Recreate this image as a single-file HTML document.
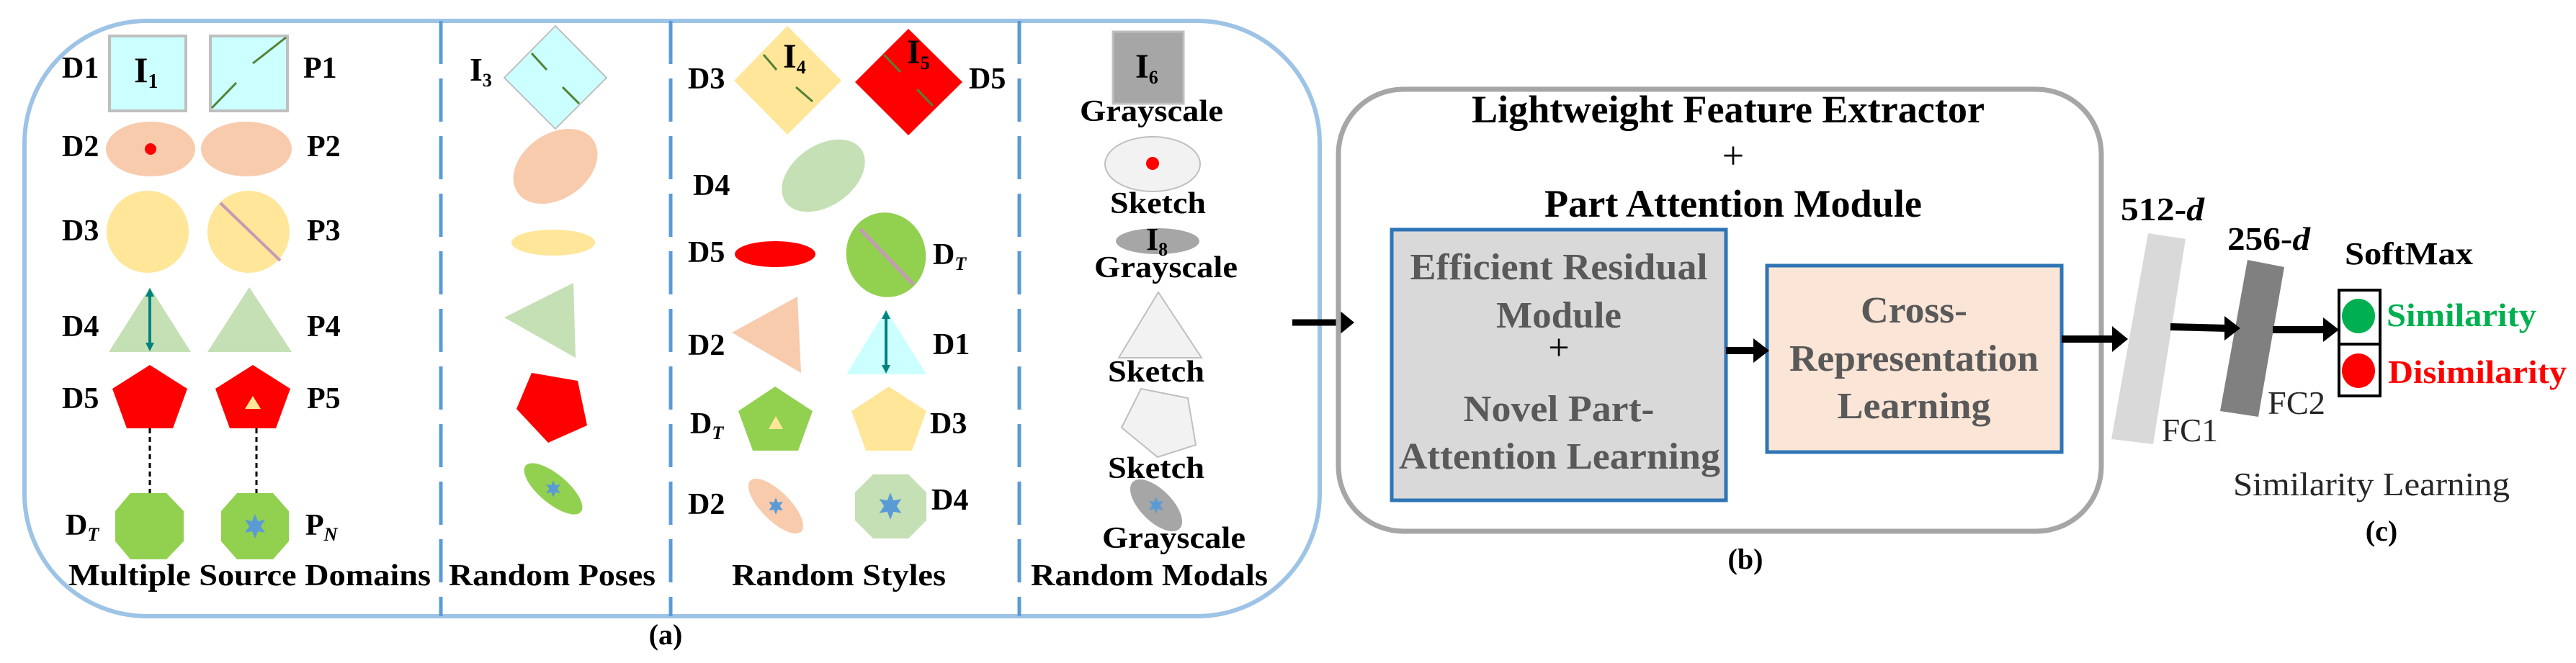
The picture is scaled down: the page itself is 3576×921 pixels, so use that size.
<!DOCTYPE html>
<html><head><meta charset="utf-8"><style>
html,body{margin:0;padding:0;background:#fff;}
svg{display:block;font-family:"Liberation Serif","DejaVu Serif",serif;}
svg text{font-family:"Liberation Serif","DejaVu Serif",serif;}
.b{font-weight:bold;}
</style></head><body>
<svg width="3576" height="921" viewBox="0 0 3576 921" xmlns="http://www.w3.org/2000/svg" font-family="'Liberation Serif', serif">
<defs>
<g id="star"><polygon points="0,-17 4,-7 14,-9 8,0 14,9 4,7 0,17 -4,7 -14,9 -8,0 -14,-9 -4,-7" fill="#5b9bd5"/></g>
</defs>

<rect x="34" y="29" width="1798" height="827" rx="170" ry="170" fill="none" stroke="#9dc3e6" stroke-width="6"/>
<g stroke="#5b9bd5" stroke-width="5" stroke-dasharray="60,20">
<line x1="612" y1="29" x2="612" y2="856"/>
<line x1="931" y1="29" x2="931" y2="856"/>
<line x1="1415" y1="29" x2="1415" y2="856"/>
</g>

<rect x="152" y="50" width="106" height="104" fill="#ccffff" stroke="#bfbfbf" stroke-width="4"/>
<rect x="292" y="50" width="107" height="104" fill="#ccffff" stroke="#bfbfbf" stroke-width="4"/>
<line x1="294" y1="150" x2="328" y2="115" stroke="#548235" stroke-width="3"/>
<line x1="351" y1="88" x2="397" y2="52" stroke="#548235" stroke-width="3"/>
<text x="186" y="114" font-size="50" class="b" font-family="'Liberation Serif', serif">I<tspan font-size="28" dy="8">1</tspan></text>

<ellipse cx="209" cy="207" rx="62" ry="38" fill="#f8cbad"/>
<circle cx="209" cy="207" r="8" fill="#ff0000"/>
<ellipse cx="342" cy="207" rx="63" ry="38" fill="#f8cbad"/>

<ellipse cx="205" cy="322" rx="57" ry="57" fill="#ffe699"/>
<ellipse cx="345" cy="322" rx="57" ry="57" fill="#ffe699"/>
<line x1="306" y1="282" x2="389" y2="362" stroke="#c39bb3" stroke-width="4"/>

<polygon points="208,399 151,489 265,489" fill="#c5e0b4"/>
<polygon points="346,399 288,489 405,489" fill="#c5e0b4"/>
<line x1="208" y1="404" x2="208" y2="484" stroke="#00827f" stroke-width="4"/>
<polygon points="208,400 202,412 214,412" fill="#00827f"/>
<polygon points="208,488 202,476 214,476" fill="#00827f"/>

<polygon points="208,507 260,540 240,595 176,595 156,540" fill="#ff0000"/>
<polygon points="351,507 403,540 383,595 319,595 299,540" fill="#ff0000"/>
<polygon points="351,550 340,568 362,568" fill="#ffe699"/>

<g stroke="#000" stroke-width="3" stroke-dasharray="7,5">
<line x1="208" y1="595" x2="208" y2="685"/>
<line x1="356" y1="595" x2="356" y2="685"/>
</g>
<polygon points="181,685 231,685 255,710 255,752 231,777 181,777 160,752 160,710" fill="#92d050"/>
<polygon points="329,685 379,685 401,710 401,752 379,777 329,777 307,752 307,710" fill="#92d050"/>
<use href="#star" x="354" y="731"/>

<g font-size="42" class="b" font-family="'Liberation Serif', serif">
<text x="86" y="108">D1</text><text x="421" y="108">P1</text>
<text x="86" y="217">D2</text><text x="426" y="217">P2</text>
<text x="86" y="334">D3</text><text x="426" y="334">P3</text>
<text x="86" y="467">D4</text><text x="426" y="467">P4</text>
<text x="86" y="567">D5</text><text x="426" y="567">P5</text>
<text x="91" y="743">D<tspan font-size="26" font-style="italic" dy="8">T</tspan></text>
<text x="424" y="743">P<tspan font-size="26" font-style="italic" dy="8">N</tspan></text>
<text x="95" y="813" textLength="503" lengthAdjust="spacingAndGlyphs">Multiple Source Domains</text>
<text x="623" y="813" textLength="287" lengthAdjust="spacingAndGlyphs">Random Poses</text>
<text x="1016" y="813" textLength="297" lengthAdjust="spacingAndGlyphs">Random Styles</text>
<text x="1431" y="813" textLength="329" lengthAdjust="spacingAndGlyphs">Random Modals</text>
</g>

<polygon points="771,36 842,108 771,179 700,108" fill="#ccffff" stroke="#bfbfbf" stroke-width="2"/>
<line x1="738" y1="74" x2="759" y2="97" stroke="#548235" stroke-width="3"/>
<line x1="781" y1="121" x2="804" y2="144" stroke="#548235" stroke-width="3"/>
<text x="652" y="112" font-size="46" class="b" font-family="'Liberation Serif', serif">I<tspan font-size="26" dy="8">3</tspan></text>
<ellipse cx="771" cy="231" rx="64" ry="45" transform="rotate(-35 771 231)" fill="#f8cbad"/>
<ellipse cx="768" cy="337" rx="58" ry="18" fill="#ffe699"/>
<polygon points="700,441 796,393 799,497" fill="#c5e0b4"/>
<polygon points="738,518 802,529 815,591 761,615 717,568" fill="#ff0000"/>
<ellipse cx="768" cy="679" rx="50" ry="20" transform="rotate(40 768 679)" fill="#92d050"/>
<use href="#star" transform="translate(768 679) scale(0.7)"/>

<polygon points="1093,36 1168,112 1093,187 1019,112" fill="#ffe699"/>
<line x1="1060" y1="76" x2="1078" y2="97" stroke="#548235" stroke-width="3"/>
<line x1="1105" y1="121" x2="1128" y2="141" stroke="#548235" stroke-width="3"/>
<polygon points="1261,40 1336,114 1261,188 1187,114" fill="#ff0000"/>
<line x1="1227" y1="76" x2="1250" y2="100" stroke="#548235" stroke-width="3"/>
<line x1="1273" y1="124" x2="1295" y2="147" stroke="#548235" stroke-width="3"/>
<text x="1087" y="94" font-size="48" class="b" font-family="'Liberation Serif', serif">I<tspan font-size="26" dy="8">4</tspan></text>
<text x="1259" y="88" font-size="48" class="b" font-family="'Liberation Serif', serif">I<tspan font-size="26" dy="8">5</tspan></text>
<ellipse cx="1143" cy="244" rx="64" ry="42" transform="rotate(-35 1143 244)" fill="#c5e0b4"/>
<ellipse cx="1076" cy="353" rx="56" ry="18" fill="#ff0000"/>
<ellipse cx="1230" cy="354" rx="55" ry="59" transform="rotate(-15 1230 354)" fill="#92d050"/>
<line x1="1194" y1="318" x2="1268" y2="395" stroke="#c39bb3" stroke-width="5"/>
<polygon points="1016,462 1107,412 1112,518" fill="#f8cbad"/>
<polygon points="1230,430 1175,520 1286,520" fill="#ccffff"/>
<line x1="1230" y1="436" x2="1230" y2="514" stroke="#00827f" stroke-width="4"/>
<polygon points="1230,431 1224,443 1236,443" fill="#00827f"/>
<polygon points="1230,519 1224,507 1236,507" fill="#00827f"/>
<polygon points="1076,537 1128,571 1108,626 1045,626 1025,571" fill="#92d050"/>
<polygon points="1077,578 1067,596 1087,596" fill="#ffe699"/>
<polygon points="1234,537 1286,571 1266,626 1202,626 1182,571" fill="#ffe699"/>
<ellipse cx="1077" cy="703" rx="50" ry="20" transform="rotate(45 1077 703)" fill="#f8cbad"/>
<use href="#star" transform="translate(1077 703) scale(0.7)"/>
<polygon points="1212,659 1261,659 1286,684 1286,723 1261,748 1212,748 1187,723 1187,684" fill="#c5e0b4"/>
<use href="#star" transform="translate(1236 703) scale(1.1)"/>
<g font-size="42" class="b" font-family="'Liberation Serif', serif">
<text x="955" y="123">D3</text><text x="1345" y="123">D5</text>
<text x="962" y="271">D4</text>
<text x="955" y="364">D5</text><text x="1295" y="367">D<tspan font-size="26" font-style="italic" dy="8">T</tspan></text>
<text x="955" y="493">D2</text><text x="1295" y="492">D1</text>
<text x="958" y="602">D<tspan font-size="26" font-style="italic" dy="8">T</tspan></text><text x="1291" y="602">D3</text>
<text x="955" y="714">D2</text><text x="1293" y="708">D4</text>
</g>

<rect x="1545" y="44" width="98" height="100" fill="#a6a6a6" stroke="#bfbfbf" stroke-width="3"/>
<text x="1576" y="108" font-size="48" class="b" font-family="'Liberation Serif', serif">I<tspan font-size="26" dy="8">6</tspan></text>
<ellipse cx="1600" cy="228" rx="66" ry="38" fill="#f2f2f2" stroke="#bfbfbf" stroke-width="2"/>
<circle cx="1600" cy="227" r="9" fill="#ff0000"/>
<ellipse cx="1607" cy="335" rx="58" ry="18" fill="#a6a6a6"/>
<text x="1591" y="347" font-size="44" class="b" font-family="'Liberation Serif', serif">I<tspan font-size="26" dy="8">8</tspan></text>
<polygon points="1608,406 1553,497 1668,497" fill="#f2f2f2" stroke="#bfbfbf" stroke-width="2"/>
<polygon points="1584,540 1649,553 1660,618 1607,635 1557,594" fill="#f2f2f2" stroke="#bfbfbf" stroke-width="2"/>
<ellipse cx="1605" cy="702" rx="46" ry="22" transform="rotate(45 1605 702)" fill="#a6a6a6"/>
<use href="#star" transform="translate(1605 702) scale(0.7)"/>
<g font-size="42" class="b" font-family="'Liberation Serif', serif">
<text x="1499" y="168" textLength="199" lengthAdjust="spacingAndGlyphs">Grayscale</text>
<text x="1541" y="296" textLength="133" lengthAdjust="spacingAndGlyphs">Sketch</text>
<text x="1519" y="385" textLength="199" lengthAdjust="spacingAndGlyphs">Grayscale</text>
<text x="1538" y="530" textLength="134" lengthAdjust="spacingAndGlyphs">Sketch</text>
<text x="1538" y="664" textLength="134" lengthAdjust="spacingAndGlyphs">Sketch</text>
<text x="1530" y="761" textLength="199" lengthAdjust="spacingAndGlyphs">Grayscale</text>
</g>
<text x="924" y="895" font-size="40" class="b" text-anchor="middle" font-family="'Liberation Serif', serif">(a)</text>

<line x1="1794" y1="448" x2="1862" y2="448" stroke="#000" stroke-width="9"/>
<polygon points="1880,448 1858,430 1858,466" fill="#000"/>

<rect x="1858" y="124" width="1059" height="614" rx="90" ry="90" fill="none" stroke="#a6a6a6" stroke-width="7"/>
<g font-size="54" class="b" text-anchor="middle" font-family="'Liberation Serif', serif">
<text x="2399" y="170" textLength="712" lengthAdjust="spacingAndGlyphs">Lightweight Feature Extractor</text>
<text x="2406" y="234" font-weight="normal">+</text>
<text x="2406" y="301" textLength="524" lengthAdjust="spacingAndGlyphs">Part Attention Module</text>
</g>
<rect x="1932" y="319" width="464" height="376" fill="#d9d9d9" stroke="#2e75b6" stroke-width="5"/>
<rect x="2453" y="369" width="409" height="259" fill="#fbe5d6" stroke="#2e75b6" stroke-width="5"/>
<g font-size="52" class="b" fill="#595959" text-anchor="middle" font-family="'Liberation Serif', serif">
<text x="2164" y="388" textLength="413" lengthAdjust="spacingAndGlyphs">Efficient Residual</text>
<text x="2164" y="455" textLength="174" lengthAdjust="spacingAndGlyphs">Module</text>
<text x="2164" y="500" font-weight="normal" fill="#000">+</text>
<text x="2164" y="585" textLength="265" lengthAdjust="spacingAndGlyphs">Novel Part-</text>
<text x="2165" y="651" textLength="446" lengthAdjust="spacingAndGlyphs">Attention Learning</text>
<text x="2657" y="448" textLength="148" lengthAdjust="spacingAndGlyphs">Cross-</text>
<text x="2657" y="515" textLength="346" lengthAdjust="spacingAndGlyphs">Representation</text>
<text x="2657" y="581" textLength="213" lengthAdjust="spacingAndGlyphs">Learning</text>
</g>
<line x1="2396" y1="487" x2="2438" y2="487" stroke="#000" stroke-width="10"/>
<polygon points="2456,487 2434,470 2434,504" fill="#000"/>
<text x="2423" y="790" font-size="40" class="b" text-anchor="middle" font-family="'Liberation Serif', serif">(b)</text>

<line x1="2862" y1="471" x2="2936" y2="471" stroke="#000" stroke-width="10"/>
<polygon points="2954,471 2932,453 2932,489" fill="#000"/>
<polygon points="2982,324 3034,332 2989,617 2931,610" fill="#d9d9d9"/>
<polygon points="3120,361 3171,371 3135,579 3082,571" fill="#808080"/>
<line x1="3013" y1="454" x2="3092" y2="456" stroke="#000" stroke-width="10"/>
<polygon points="3110,456 3088,439 3088,473" fill="#000"/>
<line x1="3155" y1="458" x2="3230" y2="458" stroke="#000" stroke-width="10"/>
<polygon points="3247,458 3225,441 3225,475" fill="#000"/>
<rect x="3247" y="403" width="57" height="147" fill="#fff" stroke="#000" stroke-width="4"/>
<line x1="3247" y1="478" x2="3304" y2="478" stroke="#000" stroke-width="4"/>
<ellipse cx="3274" cy="439" rx="23" ry="24" fill="#00b050"/>
<ellipse cx="3274" cy="515" rx="23" ry="24" fill="#ff0000"/>
<g font-size="46" class="b" font-family="'Liberation Serif', serif">
<text x="2944" y="306" textLength="116" lengthAdjust="spacingAndGlyphs">512-<tspan font-style="italic">d</tspan></text>
<text x="3092" y="347" textLength="115" lengthAdjust="spacingAndGlyphs">256-<tspan font-style="italic">d</tspan></text>
<text x="3255" y="367" font-size="44" textLength="178" lengthAdjust="spacingAndGlyphs">SoftMax</text>
<text x="3313" y="453" fill="#00b050" textLength="208" lengthAdjust="spacingAndGlyphs">Similarity</text>
<text x="3315" y="532" fill="#ff0000" textLength="248" lengthAdjust="spacingAndGlyphs">Disimilarity</text>
</g>
<g font-size="46" fill="#262626" font-family="'Liberation Serif', serif">
<text x="3001" y="613" textLength="78" lengthAdjust="spacingAndGlyphs">FC1</text>
<text x="3148" y="575" textLength="80" lengthAdjust="spacingAndGlyphs">FC2</text>
<text x="3100" y="688" textLength="384" lengthAdjust="spacingAndGlyphs">Similarity Learning</text>
</g>
<text x="3306" y="751" font-size="40" class="b" text-anchor="middle" font-family="'Liberation Serif', serif">(c)</text>
</svg>
</body></html>
